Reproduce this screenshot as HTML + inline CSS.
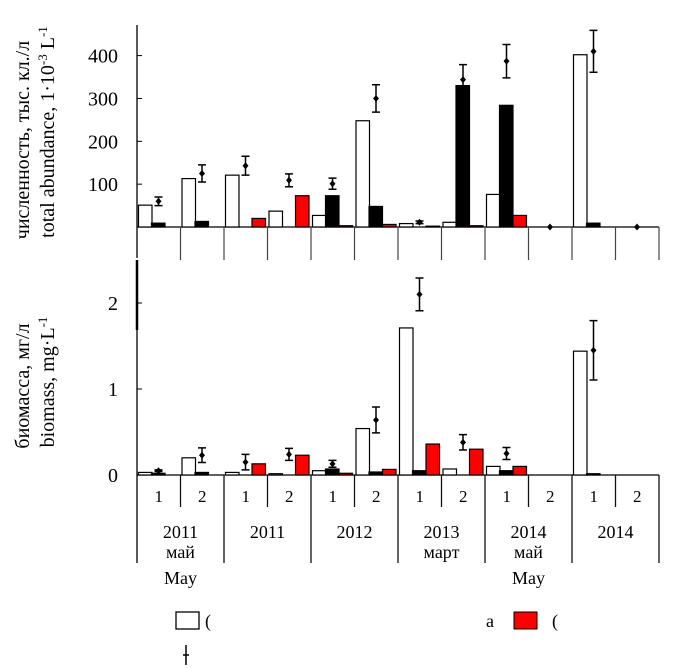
<!DOCTYPE html>
<html><head><meta charset="utf-8"><style>
html,body{margin:0;padding:0;background:#fff;}
svg{display:block;font-family:"Liberation Serif","Noto Serif CJK SC",serif;}
</style></head><body>
<svg id="chart" width="694" height="668" viewBox="0 0 694 668" xmlns="http://www.w3.org/2000/svg">
<g id="axes"></g>
<g id="bars"></g>
<g id="labels"></g>
</svg>
<script>
// ---- data ----
const groups = ["2011 May 1","2011 May 2","2011 Oct 1","2011 Oct 2","2012 1","2012 2","2013 Mar 1","2013 Mar 2","2014 May 1","2014 May 2","2014 Oct 1","2014 Oct 2"];
const abundWhite = [51,113,121,37,27,248,8,11,76,0,402,0];
const abundBlack = [9,13,0,0,73,48,0,330,284,0,9,0];
const abundRed   = [0,0,20,73,3,6,2,3,27,0,0,0];
const abundTotal = [60,125,143,109,101,300,11,344,387,0,410,0];
const abundErr   = [10,20,22,15,13,32,3,35,39,0,49,0];
const bioWhite = [0.03,0.20,0.03,0.015,0.05,0.54,1.71,0.07,0.10,0,1.44,0];
const bioBlack = [0.02,0.03,0,0,0.07,0.035,0.05,0,0.05,0,0.015,0];
const bioRed   = [0,0,0.13,0.23,0.02,0.065,0.36,0.30,0.10,0,0,0];
const bioTotal = [0.05,0.23,0.15,0.24,0.13,0.64,2.10,0.38,0.25,0,1.45,0];
const bioErr   = [0.01,0.085,0.09,0.07,0.04,0.15,0.19,0.09,0.07,0,0.345,0];
const abundTicks = [100,200,300,400];
const bioTicks = [0,1,2];
const years = ["2011","2011","2012","2013","2014","2014"];
const months = ["май","","","март","май",""];
const maySub = ["May","","","","May",""];

const NS="http://www.w3.org/2000/svg";
const X0=137, X1=659, GW=(X1-X0)/12;
const topBase=227, topScale=42.85/100;
const botBase=475, botScale=86;
const yTop=v=>topBase-v*topScale;
const yBot=v=>botBase-v*botScale;
const gx=i=>X0+i*GW;
function el(tag,attrs,parent,text){const e=document.createElementNS(NS,tag);for(const k in attrs)e.setAttribute(k,attrs[k]);if(text!==undefined)e.textContent=text;parent.appendChild(e);return e;}
const axes=document.getElementById('axes'),bars=document.getElementById('bars'),labels=document.getElementById('labels');

let a;
a=el('line',{x1:X0,y1:25,x2:X0,y2:258,stroke:'#000','stroke-width':1.3},axes);


a=el('line',{x1:X0,y1:260,x2:X0,y2:330,stroke:'#000','stroke-width':2.5},axes);


a=el('line',{x1:X0,y1:330,x2:X0,y2:563,stroke:'#000','stroke-width':1.3},axes);


a=el('line',{x1:X0,y1:topBase,x2:X1,y2:topBase,stroke:'#000','stroke-width':1.2},axes);


a=el('line',{x1:X0,y1:botBase,x2:X1,y2:botBase,stroke:'#000','stroke-width':1.2},axes);


for(let i=1;i<=12;i++){
  const x=gx(i);
  a=el('line',{x1:x,y1:topBase,x2:x,y2:260,stroke:'#444','stroke-width':1.2},axes);
  
  
  a=el('line',{x1:x,y1:botBase,x2:x,y2:(i%2===0?563:507),stroke:'#111','stroke-width':1.3},axes);
  
  
}
abundTicks.forEach(t=>{
  const y=yTop(t);
  let k=el('line',{x1:X0,y1:y,x2:X0+5,y2:y,stroke:'#000'},axes);
  
  
  k=el('text',{x:118,y:y+7,'text-anchor':'end','font-size':20},labels,String(t));
  
  
});
bioTicks.forEach(t=>{
  const y=yBot(t);
  let k=el('line',{x1:X0,y1:y,x2:X0+5,y2:y,stroke:'#000'},axes);
  
  
  k=el('text',{x:118,y:y+7,'text-anchor':'end','font-size':20},labels,String(t));
  
  
});

function drawPanel(white,black,red,tot,err,yf,base,prefix,showZero){
  for(let i=0;i<groups.length;i++){
    const g=gx(i);
    const specs=[[white[i],1.5,'#fff','white'],[black[i],14.5,'#000','black'],[red[i],28,'#f00','red']];
    specs.forEach(s=>{
      if(s[0]<=0)return;
      const y=yf(s[0]);
      const r=el('rect',{x:g+s[1],y:y,width:13.5,height:base-y,fill:s[2],stroke:'#000','stroke-width':1.2},bars);
      
      
    });
    if(tot[i]<=0 && !showZero) continue;
    const cx=g+21.5, cy=yf(tot[i]);
    if(err[i]>0){
      const y1=yf(tot[i]+err[i]), y2=yf(tot[i]-err[i]);
      let e=el('path',{d:`M${cx},${y1}V${y2}M${cx-4},${y1}H${cx+4}M${cx-4},${y2}H${cx+4}`,stroke:'#000','stroke-width':1.5,fill:'none'},bars);
      
      
    }
    const d=el('path',{d:`M${cx},${cy-3.5}L${cx+3},${cy}L${cx},${cy+3.5}L${cx-3},${cy}Z`,fill:'#000'},bars);
    
    
  }
}
drawPanel(abundWhite,abundBlack,abundRed,abundTotal,abundErr,yTop,topBase,'abundance',true);
drawPanel(bioWhite,bioBlack,bioRed,bioTotal,bioErr,yBot,botBase,'biomass',false);

for(let i=0;i<12;i++){
  const t=el('text',{x:gx(i)+GW/2,y:502,'text-anchor':'middle','font-size':17},labels,String(i%2+1));
  
  
}
for(let j=0;j<6;j++){
  const cx=gx(2*j)+GW;
  let t=el('text',{x:cx,y:538,'text-anchor':'middle','font-size':18},labels,years[j]);
  
  
  if(months[j]){
    t=el('text',{x:cx,y:558,'text-anchor':'middle','font-size':18},labels,months[j]);
    
    
  }
  if(maySub[j]){
    t=el('text',{x:cx,y:584,'text-anchor':'middle','font-size':18},labels,maySub[j]);
    
    
  }
}
</script>
<svg style="position:absolute;left:0;top:0" width="694" height="668">
<g font-family="Liberation Serif, Noto Serif CJK SC, serif" font-size="20" fill="#000">
<text transform="translate(29,140) rotate(-90)" text-anchor="middle">численность, тыс. кл./л</text>
<text transform="translate(54,132) rotate(-90)" text-anchor="middle">total abundance, 1·10<tspan font-size="13" dy="-7">-3</tspan><tspan dy="7"> L</tspan><tspan font-size="13" dy="-7">-1</tspan></text>
<text transform="translate(29,386) rotate(-90)" text-anchor="middle">биомасса, мг/л</text>
<text transform="translate(54,382) rotate(-90)" text-anchor="middle">biomass, mg·L<tspan font-size="13" dy="-7">-1</tspan></text>
</g>
<rect x="176" y="612" width="23" height="17" fill="#fff" stroke="#000" stroke-width="1.3"/>
<text x="205" y="627" font-family="Liberation Serif, serif" font-size="18">(</text>
<text x="486" y="627" font-family="Liberation Serif, serif" font-size="18">a</text>
<rect x="514" y="612" width="23" height="17" fill="#f00" stroke="#000" stroke-width="1"/>
<text x="552" y="627" font-family="Liberation Serif, serif" font-size="18">(</text>
<path d="M186,645V665M183,655H189" stroke="#000" stroke-width="1.5"/>
</svg>
</body></html>
